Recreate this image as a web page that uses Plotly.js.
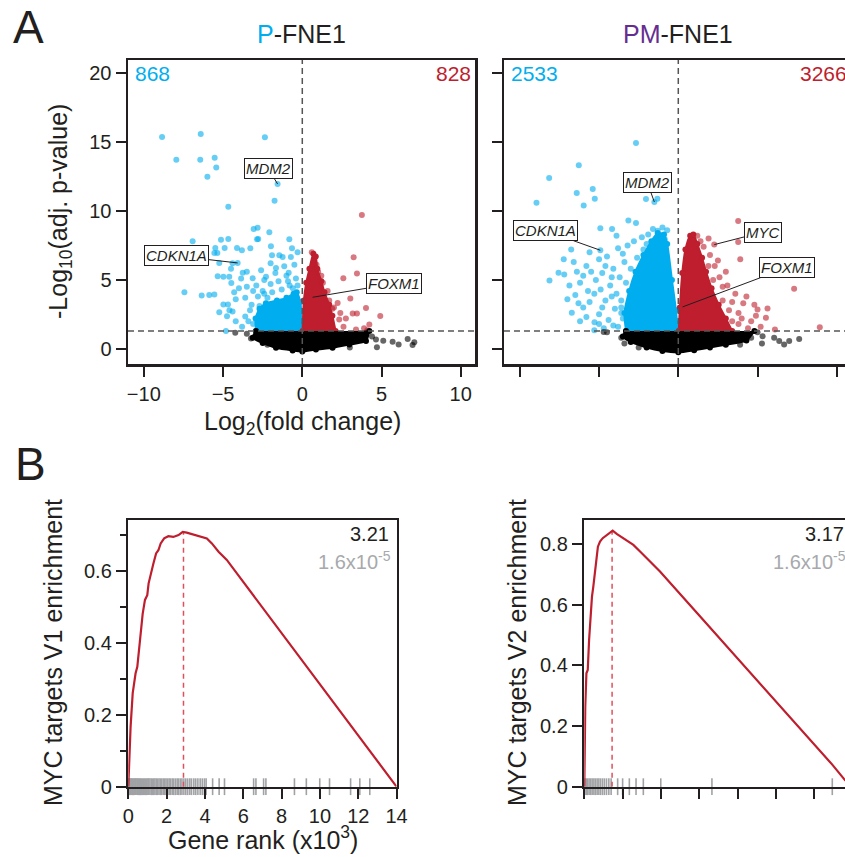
<!DOCTYPE html>
<html><head><meta charset="utf-8">
<script src="https://cdn.plot.ly/plotly-3.0.1.min.js"></script>
<style>html,body{margin:0;padding:0;overflow:hidden;background:#fff;}#chart{width:860px;height:857px;}</style>
</head><body><div id="chart"></div>
<script>
// ---------- DATA ----------
// Panel A, P-FNE1 (log2 FC, -log10 adj p)
const pBlueX = [-8.85,-6.41,-2.36,-7.95,-6.44,-5.53,-5.43,-5.99,-1.56,-1.75,-4.67,-3.07,-2.82,-2.08,-0.82,-6.92,-5.13,-4.67,-2.86,-2.78,-5.49,-4.90,-4.12,-3.81,-3.28,-1.98,-0.65,-5.55,-5.36,-1.91,-1.45,-1.24,-0.72,-4.08,-5.24,-4.4,-7.44,-6.35,-5.87,-5.55,-5.34,-4.98,-4.61,-4.48,-5.24,-4.98,-4.69,-4.75,-4.4,-4.82,-3.76,-3.86,-3.13,-2.9,-2.29,-1.66,-1.14,-0.86,-4.0,-3.6,-3.2,-3.6,-4.2,-3.8,-3.4,-2.5,-2.7,-2.0,-1.5,-0.9,-0.4,-0.6,-3.5,-4.2,-2.2,-2.8,-2.4,-1.9,-1.3,-0.8,-0.3,-1.0,-1.7,-2.4,-3.1,-3.3,-3.1,-2.6,-2.0,-0.5,-0.3,-3.5,-4.5,-4.3,-4.6];
const pBlueY = [15.36,15.58,15.34,13.72,13.72,13.86,13.16,12.49,11.96,10.75,10.31,8.70,8.79,8.45,7.95,7.80,7.92,7.97,7.95,7.97,7.32,7.32,7.32,7.15,7.29,7.44,7.29,6.96,6.96,6.79,6.79,6.67,6.67,6.23,6.23,6.2,4.11,3.86,3.91,3.94,5.27,5.22,5.22,4.78,2.66,3.21,3.21,2.37,2.7,1.30,5.51,5.1,5.12,4.6,5.22,5.87,5.99,5.51,4.4,3.7,3.2,2.35,2.0,1.6,2.0,4.2,3.1,4.7,4.9,4.9,5.1,4.4,4.5,3.6,3.7,3.8,4.0,4.1,4.3,4.6,4.6,5.3,5.5,5.0,4.2,2.8,1.8,5.7,6.2,6.1,7.0,5.6,5.8,4.1,2.8];
const pBlueCoreX = [-2.92,-2.95,-2.7,-2.3,-1.6,-1.0,-0.55,-0.35,-0.12,-0.03];
const pBlueCoreY = [1.3,2.2,2.9,3.3,3.5,3.7,4.0,4.1,3.4,1.3];
const pRedX = [3.76,3.24,3.45,2.59,3.03,2.23,3.18,3.45,4.02,4.92,4.23,2.33,2.75,3.39,1.6,1.7,1.9,2.4,1.2,1.3,0.9,0.6,1.0,2.0,2.6,3.9,4.1];
const pRedY = [9.71,6.64,5.46,5.12,3.65,3.33,2.56,2.56,2.97,2.39,1.76,2.13,2.2,1.40,4.2,3.5,2.9,2.6,5.3,4.8,6.1,7.0,5.6,3.0,1.6,1.5,1.35];
const pRedCoreX = [0.02,0.1,0.25,0.45,0.7,0.85,0.95,1.2,1.4,1.7,1.9,2.1];
const pRedCoreY = [1.3,3.5,4.8,5.8,6.9,6.7,5.8,4.9,4.1,3.2,2.4,1.3];
const pGreyX = [4.65,5.11,5.70,6.08,6.65,6.96,7.07,4.71,4.02,-4.23,-3.24,-3.5,4.4,3.6,-2.2,3.0];
const pGreyY = [0.68,0.58,0.51,0.31,0.72,0.27,0.48,0.12,1.16,1.16,0.75,1.1,0.9,1.0,0.3,0.1];
const pGreyCoreX = [-2.92,-3.13,-2.5,-1.66,-0.61,0,0.86,1.91,2.97,4.02,4.23];
const pGreyCoreY = [1.3,0.8,0.43,0.07,-0.12,-0.19,-0.05,0.07,0.31,0.56,1.3];

// Panel A, PM-FNE1
const pmBlueX = [-2.67,-6.28,-8.15,-8.95,-6.41,-5.40,-5.27,-5.97,-2.04,-1.32,-1.51,-3.15,-2.67,-4.92,-4.18,-3.9,-6.76,-7.23,-7.56,-8.13,-7.2,-6.87,-6.72,-6.3,-5.29,-5.3,-1.30,-1.1,-0.85,-4.92,-5.6,-5.0,-4.5,-5.8,-6.0,-5.5,-4.6,-5.2,-6.2,-5.7,-4.9,-6.5,-6.0,-5.6,-4.6,-5.0,-4.4,-5.8,-4.7,-3.8,-3.5,-3.2,-2.8,-2.3,-2.0,-4.1,-3.7,-4.3,-3.9,-4.0,-3.6,-3.5,-3.8,-7.0,-6.6,-3.6,-3.3,-3.0,-2.6,-2.2,-1.9,-1.6,-1.0,-0.7,-4.2,-4.8,-5.3,-4.2,-3.4,-4.8,-3.6,-4.1,-5.0,-6.2,-6.4];
const pmBlueY = [14.93,13.31,12.39,10.60,11.30,11.59,10.89,10.39,10.87,10.89,10.65,9.30,9.13,8.74,8.70,8.2,7.20,6.50,5.51,4.95,5.4,4.59,2.61,3.3,1.93,1.35,8.57,7.95,7.95,7.15,7.0,6.5,6.7,6.0,5.3,5.6,6.0,5.0,4.8,4.2,4.3,3.9,3.0,3.4,3.5,2.5,2.1,2.3,1.5,7.3,6.9,7.5,7.8,8.1,7.6,5.8,5.2,4.6,4.0,2.9,3.5,2.2,1.6,3.6,6.3,3.0,4.8,5.8,6.6,7.2,8.3,8.7,8.8,8.6,3.8,3.0,4.0,5.2,6.3,5.5,2.6,1.7,1.8,2.0,5.6];
const pmBlueCoreX = [-3.3,-3.4,-3.1,-2.7,-2.2,-1.7,-1.3,-0.9,-0.7,-0.4,-0.15,-0.03];
const pmBlueCoreY = [1.3,2.6,4.2,5.6,6.8,7.8,8.4,8.3,7.6,5.0,2.8,1.3];
const pmRedX = [3.78,1.91,2.27,3.78,3.91,7.31,8.93,5.63,5.53,5.0,4.9,4.3,4.1,3.6,3.4,2.8,2.6,3.0,2.3,4.6,5.2,4.4,3.8,3.2,6.1,2.0,1.6,1.4,1.2,2.5,2.2,2.8,3.4,3.8,4.8,4.0,2.0,1.9,3.1];
const pmRedY = [9.28,8.0,7.56,7.75,6.50,4.35,1.57,2.92,2.25,2.85,2.4,3.8,3.3,4.0,3.4,4.5,5.2,5.6,6.0,2.0,1.6,1.5,2.6,2.8,1.4,6.8,7.4,7.8,8.2,6.4,5.0,3.5,2.0,1.8,3.2,2.2,4.0,6.0,4.6];
const pmRedCoreX = [0.03,0.1,0.25,0.45,0.75,0.95,1.2,1.5,1.75,2.1,2.55,3.0,3.4];
const pmRedCoreY = [1.3,3.0,5.5,7.2,8.2,8.3,7.6,6.6,5.6,4.4,3.2,2.2,1.3];
const pmGreyX = [-3.4,-4.71,-4.5,5.32,5.28,6.05,6.37,6.68,7.0,7.63,5.0,4.6,-3.6,3.9,-2.5];
const pmGreyY = [0.39,1.23,1.2,0.92,0.39,0.8,0.56,0.31,0.56,0.72,1.2,0.8,0.8,0.3,0.1];
const pmGreyCoreX = [-3.3,-3.5,-3.0,-2.0,-1.0,0,1.0,2.0,3.0,4.3,4.8];
const pmGreyCoreY = [1.3,0.9,0.5,0.1,-0.15,-0.25,-0.1,0.1,0.3,0.6,1.3];

// Panel B, running enrichment score (gene rank x10^3, ES)
const v1Rank = [0,0.05,0.12,0.23,0.30,0.38,0.47,0.58,0.66,0.75,0.87,0.99,1.06,1.17,1.31,1.45,1.57,1.69,1.87,2.09,2.35,2.62,2.84,3.05,3.31,3.57,3.84,4.10,4.36,4.71,5.14,6.5,8.0,9.5,11.0,12.5,13.5,14.0];
const v1ES   = [0,0.074,0.167,0.26,0.287,0.315,0.333,0.389,0.435,0.48,0.519,0.532,0.565,0.593,0.62,0.648,0.657,0.676,0.69,0.696,0.694,0.699,0.708,0.706,0.702,0.699,0.693,0.69,0.676,0.653,0.63,0.533,0.427,0.322,0.214,0.107,0.036,0];
const v1Rug = [0.02,0.06,0.1,0.14,0.18,0.22,0.27,0.31,0.36,0.4,0.45,0.49,0.54,0.59,0.63,0.68,0.74,0.79,0.85,0.9,0.96,1.02,1.07,1.13,1.2,1.26,1.33,1.39,1.46,1.52,1.6,1.67,1.74,1.82,1.9,1.97,2.05,2.13,2.2,2.29,2.37,2.46,2.55,2.63,2.72,2.8,2.9,3.0,3.1,3.21,3.3,3.42,3.52,3.63,3.75,3.86,3.97,4.06,4.4,4.74,5.02,6.54,6.66,7.06,7.18,8.67,9.29,9.99,10.5,11.6,12.08,12.6];
const v1Peak = 2.88, v1PeakES = 0.705;
const v2Rank = [0,0.02,0.05,0.11,0.18,0.25,0.33,0.40,0.47,0.58,0.65,0.71,0.82,0.96,1.10,1.24,1.38,1.48,1.69,1.95,2.21,2.56,2.91,3.25,3.60,3.95,6.0,8.0,10.0,12.0,12.95,13.6,14.0];
const v2ES   = [0,0.121,0.264,0.374,0.385,0.484,0.572,0.627,0.66,0.737,0.759,0.792,0.809,0.82,0.827,0.836,0.842,0.845,0.834,0.823,0.814,0.798,0.776,0.755,0.733,0.71,0.565,0.423,0.281,0.139,0.072,0.022,0];
const v2Rug = [0.03,0.1,0.17,0.25,0.33,0.41,0.5,0.58,0.67,0.76,0.85,0.95,1.05,1.16,1.28,1.4,1.74,2.0,2.35,2.7,3.08,3.99,6.66,12.94];
const v2Peak = 1.45, v2PeakES = 0.845;

const volcTicks = [-10,-5,0,5,10];
const volcYTicks = [0,5,10,15,20];
const rankTicks = [0,2,4,6,8,10,12,14];

// ---------- STYLE ----------
const W = 860, H = 857;
const FONT = 'Arial, "Liberation Sans", Helvetica, sans-serif';
const INK = '#231F20', BLUE = '#00AEEF', RED = '#BE1E2D', PURPLE = '#662D91', GREY = '#A7A9AC';
const fx = p => p / W, fy = p => 1 - p / H;

function dots(x, y, color, ax, ay) {
  return {x, y, type:'scatter', mode:'markers', xaxis:ax, yaxis:ay, hoverinfo:'skip',
    marker:{size:6, color:color, opacity:0.6, line:{width:0}}};
}
function core(x, y, color, ax, ay) {
  return {x, y, type:'scatter', mode:'lines+markers', fill:'toself', fillcolor:color, xaxis:ax, yaxis:ay,
    hoverinfo:'skip', line:{color:color, width:2, shape:'spline', smoothing:0.6}, marker:{size:6, color:color}};
}
function rug(x, ax, ay) {
  return {x, y: x.map(() => 0), type:'scatter', mode:'markers', xaxis:ax, yaxis:ay, cliponaxis:false, hoverinfo:'skip',
    marker:{symbol:'line-ns-open', size:12, line:{width:1.6, color:'#A0A2A5'}, color:'#A0A2A5'}};
}

const traces = [
  core(pBlueCoreX, pBlueCoreY, BLUE, 'x', 'y'),
  core(pRedCoreX, pRedCoreY, RED, 'x', 'y'),
  dots(pBlueX, pBlueY, BLUE, 'x', 'y'),
  dots(pRedX, pRedY, RED, 'x', 'y'),
  core(pGreyCoreX, pGreyCoreY, '#000', 'x', 'y'),
  dots(pGreyX, pGreyY, '#000', 'x', 'y'),

  core(pmBlueCoreX, pmBlueCoreY, BLUE, 'x2', 'y2'),
  core(pmRedCoreX, pmRedCoreY, RED, 'x2', 'y2'),
  dots(pmBlueX, pmBlueY, BLUE, 'x2', 'y2'),
  dots(pmRedX, pmRedY, RED, 'x2', 'y2'),
  core(pmGreyCoreX, pmGreyCoreY, '#000', 'x2', 'y2'),
  dots(pmGreyX, pmGreyY, '#000', 'x2', 'y2'),

  rug(v1Rug, 'x3', 'y3'),
  {x:[v1Peak, v1Peak], y:[0, v1PeakES], type:'scatter', mode:'lines', xaxis:'x3', yaxis:'y3', hoverinfo:'skip',
    line:{color:'#E0505C', width:1.5, dash:'5px,4px'}},
  {x: v1Rank, y: v1ES, type:'scatter', mode:'lines', xaxis:'x3', yaxis:'y3', hoverinfo:'skip', line:{color:RED, width:2.2}},

  rug(v2Rug, 'x4', 'y4'),
  {x:[v2Peak, v2Peak], y:[0, v2PeakES], type:'scatter', mode:'lines', xaxis:'x4', yaxis:'y4', hoverinfo:'skip',
    line:{color:'#E0505C', width:1.5, dash:'5px,4px'}},
  {x: v2Rank, y: v2ES, type:'scatter', mode:'lines', xaxis:'x4', yaxis:'y4', hoverinfo:'skip', line:{color:RED, width:2.2}}
];

const axBase = {showline:true, linecolor:INK, linewidth:2.5, mirror:true, ticks:'outside', ticklen:10, tickwidth:2,
  tickcolor:INK, showgrid:false, zeroline:false, tickfont:{size:20, color:INK, family:FONT}, fixedrange:true};

const layout = {
  width:W, height:H, margin:{l:0, r:0, t:0, b:0}, paper_bgcolor:'#fff', plot_bgcolor:'#fff', showlegend:false,
  font:{family:FONT, color:INK},
  xaxis: Object.assign({}, axBase, {domain:[fx(128), fx(475)], anchor:'y', range:[-11, 10.9], tickvals:volcTicks}),
  yaxis: Object.assign({}, axBase, {domain:[fy(364), fy(60)], anchor:'x', range:[-1.1, 20.95], tickvals:volcYTicks}),
  xaxis2: Object.assign({}, axBase, {domain:[fx(504), fx(851)], anchor:'y2', range:[-11, 10.9], tickvals:volcTicks, showticklabels:false}),
  yaxis2: Object.assign({}, axBase, {domain:[fy(364), fy(60)], anchor:'x2', range:[-1.1, 20.95], tickvals:volcYTicks, showticklabels:false}),
  xaxis3: Object.assign({}, axBase, {domain:[fx(128.3), fx(396.6)], anchor:'y3', range:[0, 14], tickvals:rankTicks}),
  yaxis3: Object.assign({}, axBase, {domain:[fy(786.7), fy(520)], anchor:'x3', range:[0, 0.741], tickvals:[0,0.2,0.4,0.6],
    minor:{tickvals:[0.1,0.3,0.5,0.7], ticks:'outside', ticklen:6, tickwidth:2, tickcolor:INK}}),
  xaxis4: Object.assign({}, axBase, {domain:[fx(584.3), fx(852.6)], anchor:'y4', range:[0, 14], tickvals:rankTicks, showticklabels:false}),
  yaxis4: Object.assign({}, axBase, {domain:[fy(786.7), fy(520)], anchor:'x4', range:[0, 0.88], tickvals:[0,0.2,0.4,0.6,0.8]}),
  shapes: [
    {type:'line', xref:'x', yref:'y domain', x0:0, x1:0, y0:0, y1:1, line:{color:'#555', width:1.5, dash:'6px,4px'}},
    {type:'line', xref:'x domain', yref:'y', x0:0, x1:1, y0:1.3, y1:1.3, line:{color:'#555', width:1.5, dash:'6px,4px'}},
    {type:'line', xref:'x2', yref:'y2 domain', x0:0, x1:0, y0:0, y1:1, line:{color:'#555', width:1.5, dash:'6px,4px'}},
    {type:'line', xref:'x2 domain', yref:'y2', x0:0, x1:1, y0:1.3, y1:1.3, line:{color:'#555', width:1.5, dash:'6px,4px'}}
  ],
  annotations: []
};

function txt(text, x, y, opts) {
  return Object.assign({text, x:fx(x), y:fy(y), xref:'paper', yref:'paper', showarrow:false,
    xanchor:'center', yanchor:'middle', font:{size:25, color:INK, family:FONT}}, opts || {});
}
const A = layout.annotations;
A.push(txt('A', 28, 27, {font:{size:46, color:INK, family:FONT}}));
A.push(txt('B', 30, 464, {font:{size:46, color:INK, family:FONT}}));
A.push(txt('<span style="color:' + BLUE + '">P</span>-FNE1', 301.5, 34));
A.push(txt('<span style="color:' + PURPLE + '">PM</span>-FNE1', 678, 34));
A.push(txt('868', 133, 74, {xanchor:'left', font:{size:21, color:BLUE, family:FONT}}));
A.push(txt('828', 473, 74, {xanchor:'right', font:{size:21, color:RED, family:FONT}}));
A.push(txt('2533', 509, 74, {xanchor:'left', font:{size:21, color:BLUE, family:FONT}}));
A.push(txt('3266', 849, 74, {xanchor:'right', font:{size:21, color:RED, family:FONT}}));
A.push(txt('Log<sub>2</sub>(fold change)', 302, 423));
A.push(txt('-Log<sub>10</sub>(adj. p-value)', 60, 212, {textangle:-90}));
A.push(txt('MYC targets V1 enrichment', 53, 653, {textangle:-90}));
A.push(txt('MYC targets V2 enrichment', 517, 653, {textangle:-90}));
A.push(txt('Gene rank (x10<sup>3</sup>)', 263, 838));
A.push(txt('3.21', 391, 547, {xanchor:'right', yanchor:'bottom', font:{size:20, color:INK, family:FONT}}));
A.push(txt('1.6x10<sup>-5</sup>', 393, 546, {xanchor:'right', yanchor:'top', font:{size:20, color:GREY, family:FONT}}));
A.push(txt('3.17', 846, 547, {xanchor:'right', yanchor:'bottom', font:{size:20, color:INK, family:FONT}}));
A.push(txt('1.6x10<sup>-5</sup>', 848, 546, {xanchor:'right', yanchor:'top', font:{size:20, color:GREY, family:FONT}}));

function gene(name, ax, ay, x, y, tx, ty) {
  return {text:'<i>' + name + '</i>', xref:ax, yref:ay, axref:ax, ayref:ay, x, y, ax:tx, ay:ty,
    showarrow:true, arrowhead:0, arrowwidth:1, arrowcolor:INK, standoff:0,
    bordercolor:INK, borderwidth:1, borderpad:1, bgcolor:'#fff', font:{size:15, color:INK, family:FONT}};
}
A.push(gene('MDM2', 'x', 'y', -1.56, 11.96, -2.16, 13.09));
A.push(gene('CDKN1A', 'x', 'y', -4.08, 6.23, -7.97, 6.74));
A.push(gene('FOXM1', 'x', 'y', 0.65, 3.74, 5.80, 4.73));
A.push(gene('MDM2', 'x2', 'y2', -1.51, 10.65, -1.97, 12.10));
A.push(gene('CDKN1A', 'x2', 'y2', -4.92, 7.15, -8.39, 8.57));
A.push(gene('MYC', 'x2', 'y2', 2.27, 7.56, 5.32, 8.46));
A.push(gene('FOXM1', 'x2', 'y2', 0.27, 3.04, 6.88, 5.89));

Plotly.newPlot('chart', traces, layout, {staticPlot:true, displayModeBar:false});
</script></body></html>
